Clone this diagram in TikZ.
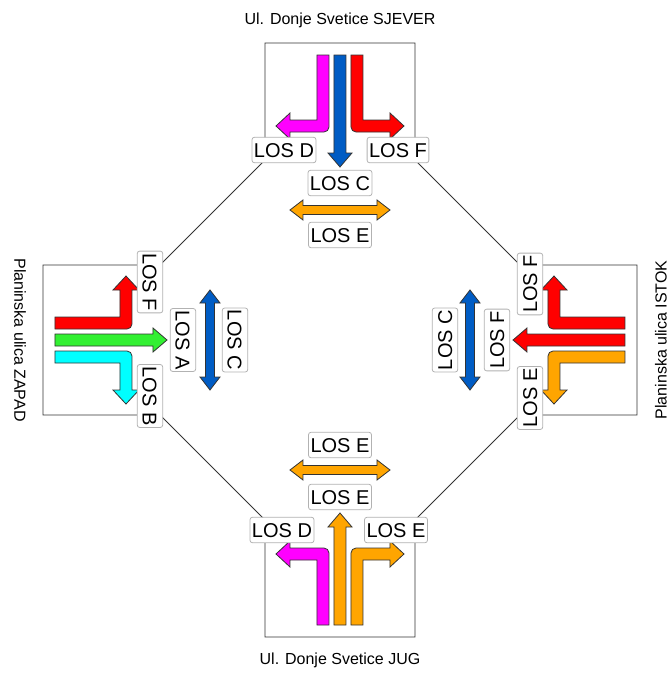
\documentclass[tikz,border=0pt]{standalone}
\usepackage{fontspec}
\setmainfont{Liberation Sans}
\usepackage{tikz}

\definecolor{lanemagenta}{RGB}{255,0,255}
\definecolor{laneblue}{RGB}{0,92,196}
\definecolor{lanered}{RGB}{255,0,0}
\definecolor{laneorange}{RGB}{255,165,0}
\definecolor{lanegreen}{RGB}{50,240,50}
\definecolor{lanecyan}{RGB}{0,255,255}

\tikzset{
  los/.style={draw=black!30, fill=white, rounded corners=2.5pt, line width=0.8pt,
    font=\fontsize{20}{24}\selectfont, inner xsep=2pt, inner ysep=5.5pt,
    text height=14.5pt, text depth=0pt},
  road/.style={draw=black!80, line width=0.9pt},
  streetname/.style={font=\fontsize{16}{19}\selectfont},
  fatarrow/.style={draw=black!80, line width=0.8pt}
}

% lane arrows in the frame of one approach (traffic going down)
\newcommand{\turnlane}[1]{\draw[fatarrow, fill=#1] (-23,285) -- (-11,285) -- (-11,213)
  arc[start angle=0, end angle=-90, radius=5pt] -- (-50,208) -- (-50,201)
  -- (-64,214) -- (-50,227) -- (-50,220) -- (-23,220) -- cycle;}
\newcommand{\thrulane}[1]{\draw[fatarrow, fill=#1] (-6,285) -- (-6,187) -- (-12,187)
  -- (0,173) -- (12,187) -- (6,187) -- (6,285) -- cycle;}
\newcommand{\crossing}[1]{\draw[fatarrow, fill=#1] (-50,130) -- (-37,140) -- (-37,134.5)
  -- (37,134.5) -- (37,140) -- (50,130) -- (37,120) -- (37,125.5) -- (-37,125.5)
  -- (-37,120) -- cycle;}

\begin{document}
\begin{tikzpicture}[x=1pt, y=1pt]
  \useasboundingbox (-340,-333) rectangle (332,340);

  % outline of the junction
  \draw[road] (-75,180) -- (-75,297) -- (75,297) -- (75,180) -- (180,75)
    -- (297,75) -- (297,-75) -- (180,-75) -- (75,-180) -- (75,-297)
    -- (-75,-297) -- (-75,-180) -- (-180,-75) -- (-297,-75) -- (-297,75)
    -- (-180,75) -- cycle;

  \node[streetname] (sjever) at (0,320) {Ul. Donje Svetice SJEVER};
  \node[streetname] (jug) at (0,-320) {Ul. Donje Svetice JUG};
  \node[streetname, rotate=-90] (zapad) at (-320,0) {Planinska ulica ZAPAD};
  \node[streetname, rotate=90] (istok) at (321,0) {Planinska ulica ISTOK};

  % sjever
  \begin{scope}
    \turnlane{lanemagenta}
    \thrulane{laneblue}
    \begin{scope}[xscale=-1] \turnlane{lanered} \end{scope}
    \crossing{laneorange}
    \node[los] (sjD) at (-56,190) {LOS D};
    \node[los] (sjF) at (58,190) {LOS F};
    \node[los] (sjC) at (0,157) {LOS C};
    \node[los] (sjE) at (0,105) {LOS E};
  \end{scope}

  % zapad
  \begin{scope}[rotate=90]
    \turnlane{lanecyan}
    \thrulane{lanegreen}
    \begin{scope}[xscale=-1] \turnlane{lanered} \end{scope}
    \crossing{laneblue}
    \node[los, rotate=-90] (zaB) at (-56,190) {LOS B};
    \node[los, rotate=-90] (zaF) at (58,190) {LOS F};
    \node[los, rotate=-90] (zaA) at (0,157) {LOS A};
    \node[los, rotate=-90] (zaC) at (0,105) {LOS C};
  \end{scope}

  % istok
  \begin{scope}[rotate=-90]
    \turnlane{lanered}
    \thrulane{lanered}
    \begin{scope}[xscale=-1] \turnlane{laneorange} \end{scope}
    \crossing{laneblue}
    \node[los, rotate=90] (isF) at (-56,190) {LOS F};
    \node[los, rotate=90] (isE) at (58,190) {LOS E};
    \node[los, rotate=90] (isFs) at (0,157) {LOS F};
    \node[los, rotate=90] (isC) at (0,105) {LOS C};
  \end{scope}

  % jug
  \begin{scope}[rotate=180]
    \turnlane{laneorange}
    \thrulane{laneorange}
    \begin{scope}[xscale=-1] \turnlane{lanemagenta} \end{scope}
    \crossing{laneorange}
    \node[los] (juE) at (-56,190) {LOS E};
    \node[los] (juD) at (58,190) {LOS D};
    \node[los] (juEs) at (0,157) {LOS E};
    \node[los] (juEp) at (0,105) {LOS E};
  \end{scope}
\end{tikzpicture}
\end{document}
